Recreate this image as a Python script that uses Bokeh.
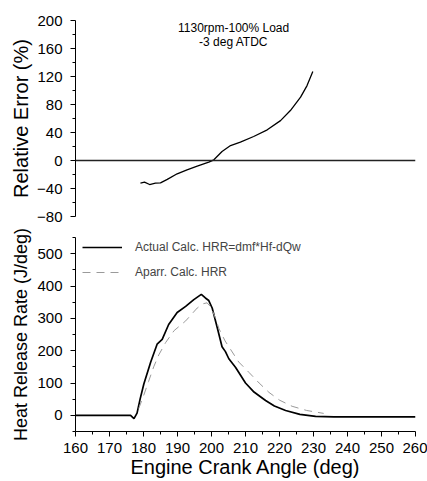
from bokeh.plotting import figure
from bokeh.layouts import column
from bokeh.models import Range1d, FixedTicker, Span, Label, Legend, LegendItem
from bokeh.embed import file_html
from bokeh.resources import INLINE

# ---- data ----
err_angle = [179.1, 180.3, 181.8, 183.5, 185.0, 187.0, 189.9, 192.8, 195.8, 199.2, 200.7,
             203.1, 205.6, 208.5, 212.4, 216.4, 220.3, 223.2, 226.2, 228.1, 229.8]
err_value = [-32.4, -31.0, -34.3, -32.4, -32.0, -27.0, -19.0, -13.3, -8.1, -2.4, 1.0,
             12.9, 21.4, 26.2, 34.3, 43.8, 57.0, 71.4, 90.5, 107.0, 127.0]

act_angle = [160, 170, 176.2, 177.2, 178.1, 179.0, 180.1, 182.1, 184.0, 185.5, 187.4, 189.9,
             192.4, 194.8, 197.0, 198.2, 199.2, 200.2, 201.7, 203.1, 204.1, 205.1, 207.1,
             210.0, 212.5, 215.9, 218.5, 221.8, 226.0, 230.6, 236.0, 242.4, 250, 260]
act_hrr = [0, 0, 0, -10, 7, 50, 97, 164, 220, 235, 281, 318,
           337, 358, 374, 363, 355, 332, 271, 212, 197, 175, 148,
           100, 72, 46, 29, 15, 3, -3, -5, -5, -5, -5]

app_angle = [178.6, 180.0, 181.5, 183.0, 184.5, 186.5, 189.0, 192.4, 195.8, 197.5, 198.7,
             199.8, 201.2, 202.2, 204.0, 205.6, 208.0, 211.0, 214.0, 216.9, 220.0, 223.7,
             228.0, 233.0]
app_hrr = [21, 60, 105, 150, 187, 225, 262, 292, 332, 345, 348,
           335, 300, 268, 230, 204, 165, 133, 100, 71, 47, 28,
           15, 6]

x_ticks = list(range(160, 261, 10))
err_ticks = list(range(-80, 201, 40))
hrr_ticks = list(range(0, 501, 100))

FONT = "Liberation Sans"


def style_axis(ax):
    ax.axis_line_color = "black"
    ax.axis_line_width = 1
    ax.major_tick_line_color = "black"
    ax.minor_tick_line_color = "black"
    ax.major_tick_out = 5
    ax.major_tick_in = 0
    ax.minor_tick_out = 3
    ax.minor_tick_in = 0
    ax.major_label_text_font = FONT
    ax.major_label_text_font_size = "15px"
    ax.major_label_text_color = "black"
    ax.axis_label_text_font = FONT
    ax.axis_label_text_font_size = "20px"
    ax.axis_label_text_font_style = "normal"
    ax.axis_label_text_color = "black"


xr = Range1d(160, 260)

# ---- top panel ----
top = figure(width=427, height=226, x_range=xr, y_range=Range1d(-80, 200),
             output_backend="svg", toolbar_location=None, x_axis_location=None,
             min_border_left=75, min_border_right=12, min_border_top=20, min_border_bottom=10)
top.grid.visible = False
top.outline_line_color = None
yax = top.yaxis[0]
yax.ticker = FixedTicker(ticks=err_ticks, minor_ticks=list(range(-60, 200, 40)))
style_axis(yax)
yax.major_label_standoff = 8
yax.axis_label = "Relative Error (%)"
yax.axis_label_standoff = 2

top.add_layout(Span(location=0, dimension="width", line_color="#222222", line_width=1.5))
top.line(err_angle, err_value, line_color="black", line_width=1.3)

top.add_layout(Label(x=206.5, y=190, text="1130rpm-100% Load", text_font=FONT,
                     text_font_size="12px", text_align="center", text_baseline="middle",
                     text_color="black"))
top.add_layout(Label(x=206.5, y=168.6, text="-3 deg ATDC", text_font=FONT,
                     text_font_size="12px", text_align="center", text_baseline="middle",
                     text_color="black"))

# ---- bottom panel ----
bot = figure(width=427, height=255, x_range=xr, y_range=Range1d(-50, 550),
             output_backend="svg", toolbar_location=None,
             min_border_left=75, min_border_right=12, min_border_top=11, min_border_bottom=50)
bot.grid.visible = False
bot.outline_line_color = None
by = bot.yaxis[0]
by.ticker = FixedTicker(ticks=hrr_ticks, minor_ticks=list(range(-50, 551, 100)))
style_axis(by)
by.major_label_standoff = 8
by.axis_label = "Heat Release Rate (J/deg)"
by.axis_label_text_font_size = "18px"
by.axis_label_standoff = 3

bx = bot.xaxis[0]
bx.ticker = FixedTicker(ticks=x_ticks, minor_ticks=list(range(165, 260, 10)))
style_axis(bx)
bx.major_label_standoff = 6
bx.axis_label = "Engine Crank Angle (deg)"
bx.axis_label_standoff = 0

r1 = bot.line(act_angle, act_hrr, line_color="black", line_width=1.7)
r2 = bot.line(app_angle, app_hrr, line_color="#9a9a9a", line_width=1, line_dash="8 6")

legend = Legend(items=[LegendItem(label="Actual Calc. HRR=dmf*Hf-dQw", renderers=[r1]),
                       LegendItem(label="Aparr. Calc. HRR", renderers=[r2])],
                location=(7, 149), padding=0, margin=0, spacing=5,
                glyph_width=40, glyph_height=20, label_height=20, label_standoff=13,
                label_text_font=FONT, label_text_font_size="12px",
                background_fill_alpha=0, border_line_color=None)
bot.add_layout(legend)

layout = column(top, bot, spacing=0)

open("out.html", "w").write(file_html(layout, INLINE))
